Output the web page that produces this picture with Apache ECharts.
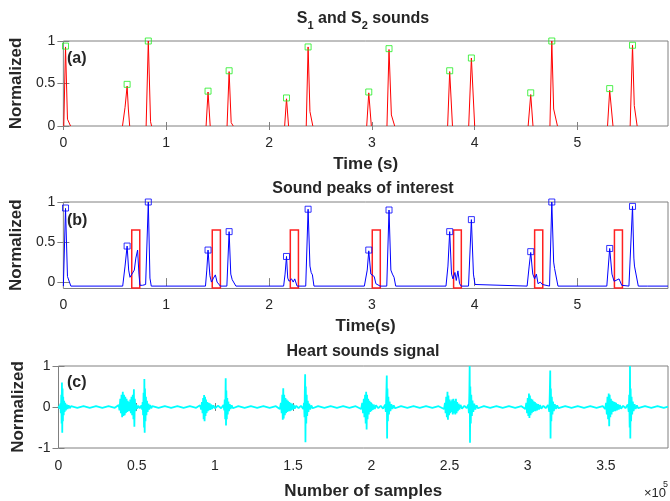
<!DOCTYPE html>
<html>
<head>
<meta charset="utf-8">
<script src="https://cdn.jsdelivr.net/npm/echarts@6/dist/echarts.min.js"></script>
<style>
  html, body { margin: 0; padding: 0; background: #fff; }
  #main { width: 670px; height: 501px; }
</style>
</head>
<body>
<div id="main"></div>
<script>
// ---- data ----
// (a) S1/S2 envelope segments, time (s) / normalized
var sndA = [
  [[0.004, 0], [0.021, 0.93], [0.04, 0.08], [0.055, 0.07], [0.07, 0]],
  [[0.575, 0], [0.60, 0.22], [0.62, 0.47], [0.632, 0.2], [0.645, 0]],
  [[0.805, 0], [0.826, 1.0], [0.848, 0.05], [0.858, 0]],
  [[1.388, 0], [1.407, 0.4], [1.428, 0]],
  [[1.592, 0], [1.612, 0.64], [1.632, 0.04], [1.645, 0.03], [1.652, 0]],
  [[2.152, 0], [2.17, 0.32], [2.19, 0]],
  [[2.362, 0], [2.38, 0.93], [2.398, 0.17], [2.41, 0.15], [2.426, 0]],
  [[2.95, 0], [2.97, 0.39], [2.995, 0]],
  [[3.147, 0], [3.167, 0.9], [3.19, 0.13], [3.203, 0.11], [3.222, 0]],
  [[3.737, 0], [3.757, 0.64], [3.784, 0]],
  [[3.942, 0], [3.968, 0.8], [4.0, 0]],
  [[4.52, 0], [4.545, 0.37], [4.567, 0]],
  [[4.732, 0], [4.75, 1.0], [4.768, 0.2], [4.782, 0.22], [4.805, 0]],
  [[5.292, 0], [5.313, 0.42], [5.345, 0]],
  [[5.512, 0], [5.535, 0.95], [5.552, 0.24], [5.562, 0.22], [5.58, 0]]
];

// detected peaks (squares)
var peakTime = [0.021, 0.62, 0.826, 1.407, 1.612, 2.17, 2.38, 2.97, 3.167, 3.757, 3.968, 4.545, 4.75, 5.313, 5.535];
var peakValA = [0.94, 0.49, 1.0, 0.41, 0.65, 0.33, 0.93, 0.40, 0.91, 0.65, 0.80, 0.39, 1.0, 0.44, 0.95];
var peakValB = [0.925, 0.45, 1.0, 0.40, 0.63, 0.32, 0.91, 0.40, 0.90, 0.63, 0.78, 0.38, 1.0, 0.42, 0.945];

// (b) full envelope
var envB = [
  [0, -0.05], [0.006, -0.05], [0.021, 0.92], [0.04, 0.07], [0.056, 0.05], [0.073, -0.05],
  [0.577, -0.05], [0.6, 0.2], [0.62, 0.45], [0.635, 0.15], [0.648, 0.06], [0.665, 0.07], [0.69, 0.15], [0.705, 0.3], [0.722, 0.4], [0.735, 0.1], [0.745, -0.04], [0.77, -0.04], [0.785, -0.02], [0.8, -0.03], [0.826, 1.0], [0.842, 0.05], [0.855, -0.05],
  [1.382, -0.05], [1.395, 0.15], [1.407, 0.4], [1.425, 0.08], [1.44, 0.0], [1.46, 0.05], [1.478, 0.09], [1.495, 0.0], [1.51, 0.01], [1.527, -0.05],
  [1.59, -0.05], [1.612, 0.63], [1.628, 0.1], [1.642, 0.03], [1.656, 0.02], [1.678, -0.05],
  [2.142, -0.05], [2.156, 0.1], [2.17, 0.32], [2.182, 0.05], [2.195, 0.01], [2.219, 0.04], [2.235, 0.0], [2.25, 0.04], [2.273, -0.05], [2.3, -0.05], [2.315, -0.03], [2.33, -0.05],
  [2.357, -0.05], [2.38, 0.91], [2.398, 0.2], [2.41, 0.12], [2.422, 0.09], [2.437, -0.05],
  [2.927, -0.05], [2.955, 0.15], [2.97, 0.39], [2.99, 0.1], [3.007, 0.09], [3.023, 0.07], [3.039, -0.02], [3.055, 0.0], [3.08, -0.05],
  [3.145, -0.05], [3.167, 0.9], [3.185, 0.15], [3.2, 0.1], [3.216, 0.06], [3.232, -0.05],
  [3.721, -0.05], [3.74, 0.2], [3.757, 0.63], [3.775, 0.1], [3.789, 0.04], [3.808, 0.12], [3.821, 0.02], [3.837, 0.14], [3.853, -0.02], [3.869, -0.05],
  [3.94, -0.05], [3.968, 0.78], [3.988, 0.1], [4.003, -0.03], [4.02, -0.05],
  [4.51, -0.05], [4.53, 0.2], [4.545, 0.37], [4.565, 0.1], [4.583, 0.04], [4.6, 0.1], [4.616, -0.02], [4.638, 0.0], [4.658, -0.03], [4.675, -0.05],
  [4.728, -0.05], [4.75, 1.0], [4.768, 0.25], [4.777, 0.17], [4.787, 0.19], [4.81, -0.05],
  [5.285, -0.05], [5.313, 0.42], [5.335, 0.1], [5.356, 0.01], [5.372, 0.0], [5.404, 0.04], [5.43, -0.04], [5.445, -0.05],
  [5.5, -0.05], [5.535, 0.945], [5.548, 0.3], [5.554, 0.2], [5.565, 0.18], [5.591, -0.05],
  [5.68, -0.05], [5.693, -0.03], [5.705, -0.05], [5.88, -0.05]
];

// (b) red boxes around the peaks of interest
var rectStart = [0.665, 1.448, 2.207, 3.004, 3.795, 4.583, 5.359];
var rectEnd   = [0.743, 1.527, 2.286, 3.082, 3.870, 4.662, 5.437];
var rectLow = -0.075, rectHigh = 0.65;

// (c) raw heart sound, sample index / normalized
var heart = [
  [0, 0.03], [600, -0.04], [1200, 0.08], [1500, -0.15], [1800, 0.3], [2000, -0.4], [2200, 0.6], [2400, -0.63], [2600, 0.45], [2800, -0.35], [3000, 0.25], [3300, -0.2], [3600, 0.15], [3900, -0.12], [4300, 0.1], [4700, -0.08], [5200, 0.06], [5800, -0.05], [6500, 0.04], [7200, -0.03], [8000, 0.02],
  [12000, -0.02], [16000, 0.02], [20000, -0.02], [24000, 0.02], [28000, -0.02], [32000, 0.02], [36000, -0.02],
  [38500, 0.05], [39000, -0.08], [39500, 0.2], [39900, -0.15], [40300, 0.3], [40700, -0.25], [41100, 0.37], [41500, -0.22], [41900, 0.3], [42300, -0.2], [42700, 0.25], [43100, -0.15], [43500, 0.2], [43900, -0.12], [44300, 0.15], [44700, -0.1], [45100, 0.12], [45500, -0.1], [45900, 0.18], [46300, -0.15], [46700, 0.25], [47100, -0.2], [47500, 0.3], [47900, -0.3], [48200, 0.43], [48500, -0.48], [48800, 0.2], [49200, -0.1], [49700, 0.06], [50300, -0.04], [51000, 0.03], [52000, -0.03], [53000, 0.04],
  [53500, -0.06], [53800, 0.12], [54100, -0.2], [54400, 0.35], [54700, -0.5], [54900, 0.68], [55100, -0.63], [55300, 0.45], [55600, -0.35], [55900, 0.25], [56200, -0.2], [56600, 0.15], [57000, -0.12], [57500, 0.08], [58000, -0.06], [58600, 0.05], [59300, -0.03], [60000, 0.02],
  [64000, -0.02], [68000, 0.02], [72000, -0.02], [76000, 0.02], [80000, -0.02], [84000, 0.02], [88000, -0.02],
  [90500, 0.04], [91200, -0.06], [91700, 0.12], [92100, -0.15], [92500, 0.22], [92800, -0.3], [93100, 0.29], [93400, -0.35], [93700, 0.25], [94000, -0.22], [94300, 0.18], [94700, -0.15], [95100, 0.12], [95500, -0.1], [95900, 0.1], [96300, -0.08], [96700, 0.09], [97100, -0.07], [97600, 0.06], [98200, -0.05], [99000, 0.04], [100000, -0.03], [102000, 0.03], [104000, -0.03], [105500, 0.05],
  [106000, -0.08], [106300, 0.18], [106600, -0.3], [106900, 0.7], [107100, -0.45], [107300, 0.4], [107600, -0.3], [107900, 0.22], [108200, -0.18], [108600, 0.13], [109000, -0.1], [109500, 0.07], [110000, -0.05], [110700, 0.04], [111500, -0.03],
  [115000, 0.02], [119000, -0.02], [123000, 0.02], [127000, -0.02], [131000, 0.02], [135000, -0.02], [139000, 0.02],
  [141500, -0.05], [142200, 0.1], [142700, -0.15], [143100, 0.3], [143400, -0.31], [143700, 0.46], [144000, -0.28], [144300, 0.3], [144700, -0.2], [145100, 0.22], [145500, -0.15], [145900, 0.18], [146300, -0.12], [146700, 0.15], [147100, -0.1], [147500, 0.12], [147900, -0.1], [148300, 0.1], [148800, -0.08], [149300, 0.08], [149800, -0.06], [150400, 0.05], [151000, -0.04], [152000, 0.03], [153500, -0.03], [155000, 0.03], [156500, -0.05],
  [157000, 0.1], [157300, -0.25], [157500, 0.4], [157700, 0.8], [157900, -0.86], [158100, 0.5], [158400, -0.4], [158700, 0.3], [159000, -0.22], [159400, 0.15], [159800, -0.12], [160300, 0.08], [160900, -0.06], [161600, 0.04], [162500, -0.03],
  [166000, 0.02], [170000, -0.02], [174000, 0.02], [178000, -0.02], [182000, 0.02], [186000, -0.02], [190000, 0.02],
  [193500, -0.05], [194200, 0.1], [194700, -0.15], [195200, 0.2], [195600, -0.25], [196000, 0.3], [196400, -0.4], [196700, 0.37], [197000, -0.55], [197300, 0.3], [197600, -0.3], [198000, 0.2], [198400, -0.18], [198800, 0.15], [199200, -0.12], [199600, 0.12], [200000, -0.1], [200400, 0.08], [200900, -0.07], [201500, 0.06], [202200, -0.05], [203000, 0.04], [204500, -0.03], [206000, 0.03], [207500, -0.04], [208800, 0.06],
  [209300, -0.12], [209600, 0.3], [209900, 0.77], [210100, -0.77], [210300, 0.45], [210600, -0.35], [210900, 0.25], [211300, -0.18], [211700, 0.13], [212200, -0.1], [212800, 0.07], [213500, -0.05], [214300, 0.04], [215200, -0.03],
  [219000, 0.02], [223000, -0.02], [227000, 0.02], [231000, -0.02], [235000, 0.02], [239000, -0.02], [243000, 0.02],
  [246500, -0.05], [247100, 0.1], [247500, -0.15], [247900, 0.25], [248300, -0.25], [248700, 0.37], [249000, -0.31], [249300, 0.28], [249700, -0.2], [250100, 0.18], [250500, -0.15], [250900, 0.14], [251300, -0.12], [251700, 0.18], [252100, -0.18], [252500, 0.2], [252900, -0.15], [253300, 0.15], [253700, -0.18], [254100, 0.2], [254500, -0.15], [254900, 0.12], [255300, -0.1], [255800, 0.08], [256300, -0.06], [257000, 0.05], [258000, -0.04], [259500, 0.03], [261000, -0.03], [262000, 0.06],
  [262400, -0.15], [262700, 0.35], [262900, 1.0], [263100, -0.87], [263300, 0.5], [263600, -0.4], [263900, 0.3], [264300, -0.22], [264700, 0.16], [265200, -0.12], [265800, 0.08], [266500, -0.06], [267300, 0.04], [268200, -0.03],
  [272000, 0.02], [276000, -0.02], [280000, 0.02], [284000, -0.02], [288000, 0.02], [292000, -0.02], [296000, 0.02],
  [298500, -0.05], [299100, 0.1], [299600, -0.15], [300000, 0.22], [300400, -0.22], [300800, 0.33], [301100, -0.27], [301400, 0.28], [301800, -0.2], [302200, 0.2], [302600, -0.15], [303000, 0.18], [303400, -0.12], [303800, 0.14], [304200, -0.1], [304600, 0.12], [305000, -0.1], [305500, 0.09], [306000, -0.08], [306600, 0.07], [307200, -0.06], [307900, 0.05], [308700, -0.04], [310000, 0.03], [311500, -0.03], [313000, 0.05],
  [313800, -0.12], [314100, 0.3], [314400, 0.89], [314600, -0.77], [314800, 0.45], [315100, -0.35], [315400, 0.25], [315800, -0.18], [316200, 0.13], [316700, -0.1], [317300, 0.07], [318000, -0.05], [318800, 0.04], [319700, -0.03],
  [324000, 0.02], [328000, -0.02], [332000, 0.02], [336000, -0.02], [340000, 0.02], [344000, -0.02], [348000, 0.02],
  [349500, -0.05], [350100, 0.1], [350600, -0.18], [351000, 0.25], [351400, -0.3], [351800, 0.33], [352100, -0.47], [352400, 0.3], [352800, -0.25], [353200, 0.2], [353600, -0.18], [354000, 0.15], [354400, -0.12], [354800, 0.13], [355200, -0.1], [355600, 0.12], [356000, -0.1], [356500, 0.1], [357000, -0.08], [357600, 0.07], [358200, -0.06], [358900, 0.05], [359700, -0.04], [361000, 0.03], [362500, -0.03], [364000, 0.06],
  [364600, -0.12], [364900, 0.3], [365200, -0.5], [365400, 1.0], [365600, -0.77], [365800, 0.45], [366100, -0.35], [366400, 0.25], [366800, -0.18], [367200, 0.13], [367700, -0.1], [368300, 0.07], [369000, -0.05], [369800, 0.04], [370600, -0.03],
  [375000, 0.02], [379000, -0.02], [383000, 0.02], [387000, -0.02], [389700, 0.01]
];

// tick values
var timeTicks = [0, 1, 2, 3, 4, 5];
var normTicks = [0, 0.5, 1];
var sigTicks = [-1, 0, 1];
var sampleTicks = [0, 50000, 100000, 150000, 200000, 250000, 300000, 350000];

var FONT = 'Liberation Sans, Arial, sans-serif';
var INK = '#262626';
var BOX = '#808080';

var myChart = echarts.init(document.getElementById('main'));

// bottom + top x axes, left + right y axes for one panel
function xAxes(gi, max, ticks, name, gap, margin, fmt) {
  return [{
    type: 'value', gridIndex: gi, min: 0, max: max, position: 'bottom',
    axisLine: { show: false },
    axisTick: { inside: true, length: 4, customValues: ticks, lineStyle: { color: BOX } },
    axisLabel: { customValues: ticks, margin: margin, color: INK, fontSize: 14, fontFamily: FONT, formatter: fmt },
    splitLine: { show: false },
    name: name, nameLocation: 'middle', nameGap: gap,
    nameTextStyle: { color: INK, fontSize: 17, fontWeight: 'bold', fontFamily: FONT }
  }, {
    type: 'value', gridIndex: gi, min: 0, max: max, position: 'top',
    axisLine: { show: false },
    axisTick: { inside: true, length: 4, customValues: ticks, lineStyle: { color: BOX } },
    axisLabel: { show: false },
    splitLine: { show: false }
  }];
}
function yAxes(gi, min, max, ticks) {
  return [{
    type: 'value', gridIndex: gi, min: min, max: max, position: 'left',
    axisLine: { show: false },
    axisTick: { inside: true, length: 6, customValues: ticks, lineStyle: { color: BOX } },
    axisLabel: { customValues: ticks, margin: 8, color: INK, fontSize: 14, fontFamily: FONT },
    splitLine: { show: false },
    name: 'Normalized', nameLocation: 'middle', nameGap: 30,
    nameTextStyle: { color: INK, fontSize: 17, fontWeight: 'bold', fontFamily: FONT }
  }, {
    type: 'value', gridIndex: gi, min: min, max: max, position: 'right',
    axisLine: { show: false },
    axisTick: { inside: true, length: 6, customValues: ticks, lineStyle: { color: BOX } },
    axisLabel: { show: false },
    splitLine: { show: false }
  }];
}

// flatten (a) segments with gaps in between
var lineA = [];
sndA.forEach(function (seg, i) {
  if (i > 0) lineA.push([seg[0][0] - 0.001, '-']);
  seg.forEach(function (p) { lineA.push(p); });
});

var boxes = rectStart.map(function (s, i) {
  return [{ xAxis: s, yAxis: rectLow }, { xAxis: rectEnd[i], yAxis: rectHigh }];
});

function zipPeaks(vals) {
  return peakTime.map(function (t, i) { return [t, vals[i]]; });
}

var titleStyle = { color: INK, fontSize: 16, fontWeight: 'bold', fontFamily: FONT, lineHeight: 22 };

var option = {
  backgroundColor: '#fff',
  animation: false,
  title: [
    {
      text: '{t|S}{s|1}{t| and S}{s|2}{t| sounds}', left: 363, top: 7, textAlign: 'center', padding: 0,
      textStyle: {
        rich: {
          t: { color: INK, fontSize: 16, fontWeight: 'bold', fontFamily: FONT, lineHeight: 24, verticalAlign: 'middle' },
          s: { color: INK, fontSize: 11, fontWeight: 'bold', fontFamily: FONT, lineHeight: 24, verticalAlign: 'bottom' }
        }
      }
    },
    { text: 'Sound peaks of interest', left: 363, top: 178, textAlign: 'center', padding: 0, textStyle: titleStyle },
    { text: 'Heart sounds signal', left: 363, top: 341, textAlign: 'center', padding: 0, textStyle: titleStyle }
  ],
  grid: [
    { left: 58.5, top: 41, width: 609.5, height: 85, show: true, borderColor: BOX, borderWidth: 1, backgroundColor: '#fff' },
    { left: 58.5, top: 202, width: 609.5, height: 86.5, show: true, borderColor: BOX, borderWidth: 1, backgroundColor: '#fff' },
    { left: 58.5, top: 366, width: 609.5, height: 84, show: true, borderColor: BOX, borderWidth: 1, backgroundColor: '#fff' }
  ],
  xAxis: []
    .concat(xAxes(0, 5.88, timeTicks, 'Time (s)', 30, 10))
    .concat(xAxes(1, 5.88, timeTicks, 'Time(s)', 29, 10))
    .concat(xAxes(2, 389700, sampleTicks, 'Number of samples', 35, 11, function (v) { return String(v / 100000); })),
  yAxis: []
    .concat(yAxes(0, 0, 1, normTicks))
    .concat(yAxes(1, -0.08, 1, normTicks))
    .concat(yAxes(2, -1, 1, sigTicks)),
  series: [
    {
      type: 'line', xAxisIndex: 0, yAxisIndex: 0, data: lineA, showSymbol: false, symbol: 'none',
      lineStyle: { color: '#ff0000', width: 1 }, connectNulls: false
    },
    {
      type: 'scatter', xAxisIndex: 0, yAxisIndex: 0, data: zipPeaks(peakValA), symbol: 'rect', symbolSize: 6,
      itemStyle: { color: 'rgba(0,0,0,0)', borderColor: '#22ee22', borderWidth: 1 }, z: 5
    },
    {
      type: 'line', xAxisIndex: 2, yAxisIndex: 2, data: envB, showSymbol: false, symbol: 'none',
      lineStyle: { color: '#0000ff', width: 1 },
      markArea: {
        silent: true,
        itemStyle: { color: 'rgba(0,0,0,0)', borderColor: '#ff2020', borderWidth: 1.5 },
        data: boxes
      }
    },
    {
      type: 'scatter', xAxisIndex: 2, yAxisIndex: 2, data: zipPeaks(peakValB), symbol: 'rect', symbolSize: 6,
      itemStyle: { color: 'rgba(0,0,0,0)', borderColor: '#0000ff', borderWidth: 1 }, z: 5
    },
    {
      type: 'line', xAxisIndex: 4, yAxisIndex: 4, data: heart, showSymbol: false, symbol: 'none',
      lineStyle: { color: '#00ffff', width: 1.8 }
    }
  ],
  graphic: [
    { type: 'text', left: 67, top: 51, style: { text: '(a)', font: 'bold 16px ' + FONT, fill: INK } },
    { type: 'text', left: 67, top: 213, style: { text: '(b)', font: 'bold 16px ' + FONT, fill: INK } },
    { type: 'text', left: 67, top: 375, style: { text: '(c)', font: 'bold 16px ' + FONT, fill: INK } },
    { type: 'text', left: 644, top: 487, style: { text: '\u00d710', font: '13px ' + FONT, fill: INK } },
    { type: 'text', left: 663, top: 480, style: { text: '5', font: '9px ' + FONT, fill: INK } }
  ]
};

myChart.setOption(option);
</script>
</body>
</html>
